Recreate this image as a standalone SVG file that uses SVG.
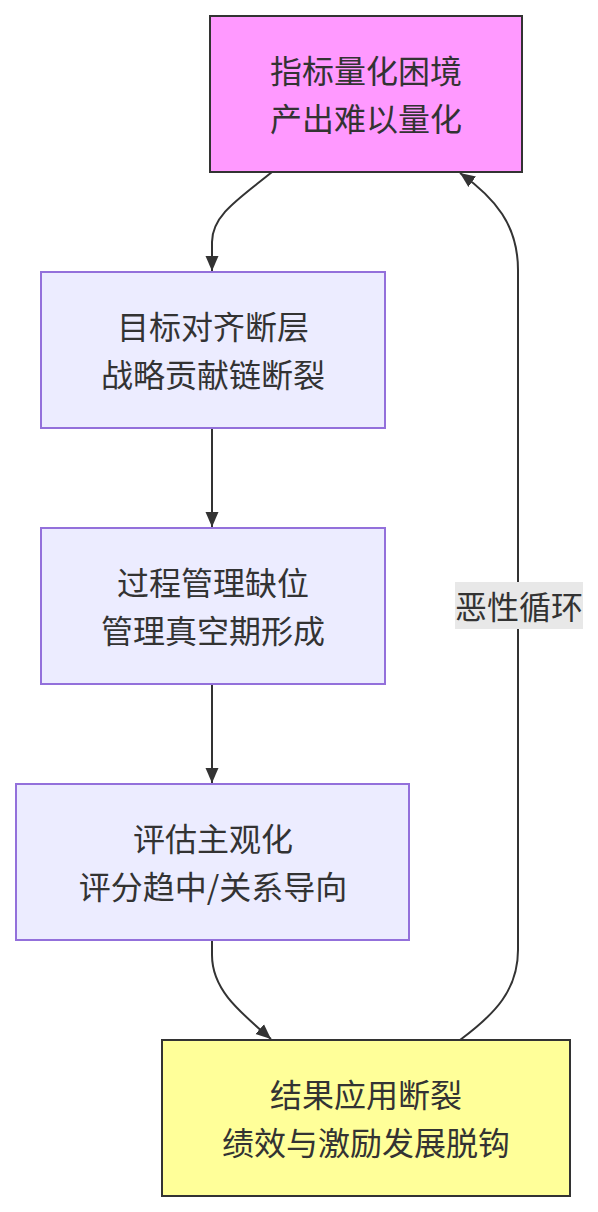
<svg xmlns="http://www.w3.org/2000/svg" width="598" height="1212" viewBox="0 0 598 1212">
<style>
.n rect{stroke-width:2}
.hot rect{fill:#ff99ff;stroke:#333}
.def rect{fill:#ececff;stroke:#9370db}
.end rect{fill:#ffff99;stroke:#333}
text{font-family:"Noto Sans CJK SC","Liberation Sans",sans-serif;font-size:32px;fill:#333;text-anchor:middle;dominant-baseline:central}
.e{fill:none;stroke:#333;stroke-width:2}
</style>
<defs>
<marker id="ah" markerUnits="userSpaceOnUse" markerWidth="16" markerHeight="16" viewBox="0 0 16 16" refX="15" refY="8" orient="auto">
<path d="M0,1.5 L15,8 L0,14.5 z" fill="#333"/>
</marker>
</defs>
<g id="connectors">
<path class="e" d="M272,172 C240,198 212,215 212,242 L212,271" marker-end="url(#ah)"/>
<path class="e" d="M212,428 L212,527" marker-end="url(#ah)"/>
<path class="e" d="M212,684 L212,783" marker-end="url(#ah)"/>
<path class="e" d="M212,940 L212,955 C212,990 240,1012 271,1039" marker-end="url(#ah)"/>
<path class="e" d="M460,1040 C495,1014 518,990 518,950 L518,270 C518,225 495,198 460,173" marker-end="url(#ah)"/>
<g id="edge-label">
<rect x="455" y="582" width="128" height="47" fill="#e8e8e8"/>
<text x="519" y="605">恶性循环</text>
</g>
</g>
<g id="n1" class="n hot">
<rect x="210" y="16" width="312" height="156"/>
<text x="366" y="69">指标量化困境</text>
<text x="366" y="117">产出难以量化</text>
</g>
<g id="n2" class="n def">
<rect x="41" y="272" width="344" height="156"/>
<text x="213" y="325">目标对齐断层</text>
<text x="213" y="373">战略贡献链断裂</text>
</g>
<g id="n3" class="n def">
<rect x="41" y="528" width="344" height="156"/>
<text x="213" y="581">过程管理缺位</text>
<text x="213" y="629">管理真空期形成</text>
</g>
<g id="n4" class="n def">
<rect x="16" y="784" width="393" height="156"/>
<text x="213" y="837">评估主观化</text>
<text x="213" y="885">评分趋中/关系导向</text>
</g>
<g id="n5" class="n end">
<rect x="162" y="1040" width="408" height="156"/>
<text x="366" y="1093">结果应用断裂</text>
<text x="366" y="1141">绩效与激励发展脱钩</text>
</g>
</svg>
